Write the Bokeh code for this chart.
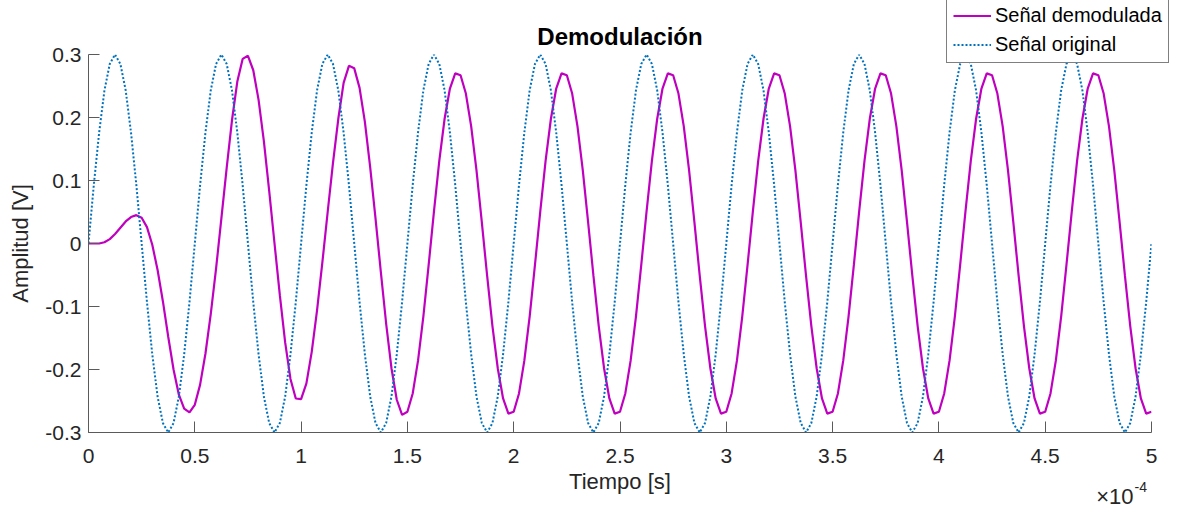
import numpy as np
from bokeh.plotting import figure
from bokeh.layouts import column
from bokeh.models import (Range1d, FixedTicker, CustomJSTickFormatter, Legend,
                          LegendItem, Label)
from bokeh.embed import file_html
from bokeh.resources import INLINE

# time samples, in units of 1e-4 s (axis shows x10^-4)
tiempo = np.round(np.arange(201) * 0.025, 3)

senal_demodulada = [
    0.000, 0.000, 0.000, 0.002, 0.007, 0.015, 0.025, 0.035, 0.042, 0.045,
    0.041, 0.026, -0.002, -0.042, -0.092, -0.148, -0.200, -0.240, -0.262, -0.268,
    -0.256, -0.224, -0.175, -0.112, -0.040, 0.040, 0.120, 0.196, 0.257, 0.293,
    0.298, 0.275, 0.228, 0.162, 0.083, 0.000, -0.082, -0.157, -0.215, -0.246,
    -0.247, -0.222, -0.172, -0.106, -0.030, 0.050, 0.128, 0.198, 0.255, 0.282,
    0.278, 0.247, 0.193, 0.121, 0.040, -0.045, -0.127, -0.198, -0.248, -0.272,
    -0.267,
    -0.238, -0.186, -0.116, -0.034, 0.051, 0.131, 0.198, 0.246, 0.270, 0.267,
    0.238, 0.186, 0.116, 0.034, -0.051, -0.131, -0.198, -0.246, -0.270, -0.267,
    -0.238, -0.186, -0.116, -0.034, 0.051, 0.131, 0.198, 0.246, 0.270, 0.267,
    0.238, 0.186, 0.116, 0.034, -0.051, -0.131, -0.198, -0.246, -0.270, -0.267,
    -0.238, -0.186, -0.116, -0.034, 0.051, 0.131, 0.198, 0.246, 0.270, 0.267,
    0.238, 0.186, 0.116, 0.034, -0.051, -0.131, -0.198, -0.246, -0.270, -0.267,
    -0.238, -0.186, -0.116, -0.034, 0.051, 0.131, 0.198, 0.246, 0.270, 0.267,
    0.238, 0.186, 0.116, 0.034, -0.051, -0.131, -0.198, -0.246, -0.270, -0.267,
    -0.238, -0.186, -0.116, -0.034, 0.051, 0.131, 0.198, 0.246, 0.270, 0.267,
    0.238, 0.186, 0.116, 0.034, -0.051, -0.131, -0.198, -0.246, -0.270, -0.267,
    -0.238, -0.186, -0.116, -0.034, 0.051, 0.131, 0.198, 0.246, 0.270, 0.267,
    0.238, 0.186, 0.116, 0.034, -0.051, -0.131, -0.198, -0.246, -0.270, -0.267,
    -0.238, -0.186, -0.116, -0.034, 0.051, 0.131, 0.198, 0.246, 0.270, 0.267,
    0.238, 0.186, 0.116, 0.034, -0.051, -0.131, -0.198, -0.246, -0.270, -0.267,
]

senal_original = [
    0.000, 0.093, 0.176, 0.243, 0.285, 0.300, 0.285, 0.243, 0.176, 0.093,
    0.000, -0.093, -0.176, -0.243, -0.285, -0.300, -0.285, -0.243, -0.176, -0.093,
    0.000, 0.093, 0.176, 0.243, 0.285, 0.300, 0.285, 0.243, 0.176, 0.093,
    0.000, -0.093, -0.176, -0.243, -0.285, -0.300, -0.285, -0.243, -0.176, -0.093,
    0.000, 0.093, 0.176, 0.243, 0.285, 0.300, 0.285, 0.243, 0.176, 0.093,
    0.000, -0.093, -0.176, -0.243, -0.285, -0.300, -0.285, -0.243, -0.176, -0.093,
    0.000, 0.093, 0.176, 0.243, 0.285, 0.300, 0.285, 0.243, 0.176, 0.093,
    0.000, -0.093, -0.176, -0.243, -0.285, -0.300, -0.285, -0.243, -0.176, -0.093,
    0.000, 0.093, 0.176, 0.243, 0.285, 0.300, 0.285, 0.243, 0.176, 0.093,
    0.000, -0.093, -0.176, -0.243, -0.285, -0.300, -0.285, -0.243, -0.176, -0.093,
    0.000, 0.093, 0.176, 0.243, 0.285, 0.300, 0.285, 0.243, 0.176, 0.093,
    0.000, -0.093, -0.176, -0.243, -0.285, -0.300, -0.285, -0.243, -0.176, -0.093,
    0.000, 0.093, 0.176, 0.243, 0.285, 0.300, 0.285, 0.243, 0.176, 0.093,
    0.000, -0.093, -0.176, -0.243, -0.285, -0.300, -0.285, -0.243, -0.176, -0.093,
    0.000, 0.093, 0.176, 0.243, 0.285, 0.300, 0.285, 0.243, 0.176, 0.093,
    0.000, -0.093, -0.176, -0.243, -0.285, -0.300, -0.285, -0.243, -0.176, -0.093,
    0.000, 0.093, 0.176, 0.243, 0.285, 0.300, 0.285, 0.243, 0.176, 0.093,
    0.000, -0.093, -0.176, -0.243, -0.285, -0.300, -0.285, -0.243, -0.176, -0.093,
    0.000, 0.093, 0.176, 0.243, 0.285, 0.300, 0.285, 0.243, 0.176, 0.093,
    0.000, -0.093, -0.176, -0.243, -0.285, -0.300, -0.285, -0.243, -0.176, -0.093,
    0.000,
]

x_ticks = [0, 0.5, 1, 1.5, 2, 2.5, 3, 3.5, 4, 4.5, 5]
y_ticks = [-0.3, -0.2, -0.1, 0, 0.1, 0.2, 0.3]

titulo = "Demodulación"
etiqueta_x = "Tiempo [s]"
etiqueta_y = "Amplitud [V]"
nombres = ["Señal demodulada", "Señal original"]
exponente = ["×10", "-4"]

FONT = "Liberation Sans"
TXT = "#262626"
C_DEM = "#BF00BF"
C_ORI = "#0072BD"
W, H = 1177, 505

# ---------------- main chart ----------------
p = figure(width=W, height=H, output_backend="svg", toolbar_location=None,
           x_range=Range1d(0, 5), y_range=Range1d(-0.3, 0.3),
           min_border_left=88, min_border_right=26, min_border_top=54,
           min_border_bottom=73)
p.outline_line_color = None
p.xgrid.visible = False
p.ygrid.visible = False
p.background_fill_color = "white"
p.border_fill_color = "white"

p.title.text = titulo
p.title.align = "center"
p.title.text_font = FONT
p.title.text_font_size = "24px"
p.title.text_font_style = "bold"
p.title.text_color = "black"
p.title.standoff = 10

fmt = CustomJSTickFormatter(code="return tick.toString();")
for ax, ticks, lab in ((p.xaxis[0], x_ticks, etiqueta_x), (p.yaxis[0], y_ticks, etiqueta_y)):
    ax.ticker = FixedTicker(ticks=ticks)
    ax.formatter = fmt
    ax.axis_label = lab
    ax.axis_label_text_font = FONT
    ax.axis_label_text_font_size = "22px"
    ax.axis_label_text_font_style = "normal"
    ax.axis_label_text_color = TXT
    ax.major_label_text_font = FONT
    ax.major_label_text_font_size = "21px"
    ax.major_label_text_color = TXT
    ax.axis_line_color = "#5a5a5a"
    ax.major_tick_line_color = "#5a5a5a"
    ax.major_tick_in = 11
    ax.major_tick_out = 0
    ax.minor_tick_line_color = None
p.xaxis.major_label_standoff = 16
p.xaxis.axis_label_standoff = 3
p.yaxis.major_label_standoff = 7
p.yaxis.axis_label_standoff = 9

p.line(tiempo, senal_demodulada, line_color=C_DEM, line_width=2.2)
p.line(tiempo, senal_original, line_color=C_ORI, line_width=2, line_dash="2 2")

# ------- transparent overlay (legend box + axis exponent), page pixels -------
ov = figure(width=W, height=H, output_backend="svg", toolbar_location=None,
            x_range=Range1d(0, W), y_range=Range1d(H, 0),
            min_border=0, x_axis_type=None, y_axis_type=None)
ov.outline_line_color = None
ov.background_fill_color = None
ov.border_fill_color = None
ov.xgrid.visible = False
ov.ygrid.visible = False
ov.frame_align = False
p.frame_align = False
ov.styles = {"position": "absolute", "left": "0px", "top": "0px",
             "z-index": "10", "pointer-events": "none"}
ov.stylesheets = [":host { position: absolute !important; left: 0px !important; "
                  "top: 0px !important; z-index: 10 !important; "
                  "pointer-events: none !important; }"]

k1 = ov.line([np.nan], [np.nan], line_color=C_DEM, line_width=2.2)
k2 = ov.line([np.nan], [np.nan], line_color=C_ORI, line_width=2, line_dash="2 2")

legend = Legend(items=[LegendItem(label=nombres[0], renderers=[k1]),
                       LegendItem(label=nombres[1], renderers=[k2])],
                location=(946, H - 63))
legend.border_line_color = "black"
legend.border_line_width = 1
legend.background_fill_color = "white"
legend.background_fill_alpha = 1
legend.label_text_font = FONT
legend.label_text_font_size = "20px"
legend.label_text_color = "black"
legend.glyph_width = 38
legend.glyph_height = 21
legend.label_height = 21
legend.label_standoff = 4
legend.spacing = 6
legend.padding = 6
legend.margin = 0
ov.add_layout(legend, "center")

ov.add_layout(Label(x=1133, y=496, text=exponente[0], text_align="right",
                    text_baseline="alphabetic", text_font=FONT,
                    text_font_size="22px", text_color=TXT))
ov.add_layout(Label(x=1134, y=486, text=exponente[1], text_align="left",
                    text_baseline="alphabetic", text_font=FONT,
                    text_font_size="14px", text_color=TXT))

layout = column(p, ov)
open("out.html", "w").write(file_html(layout, INLINE))
